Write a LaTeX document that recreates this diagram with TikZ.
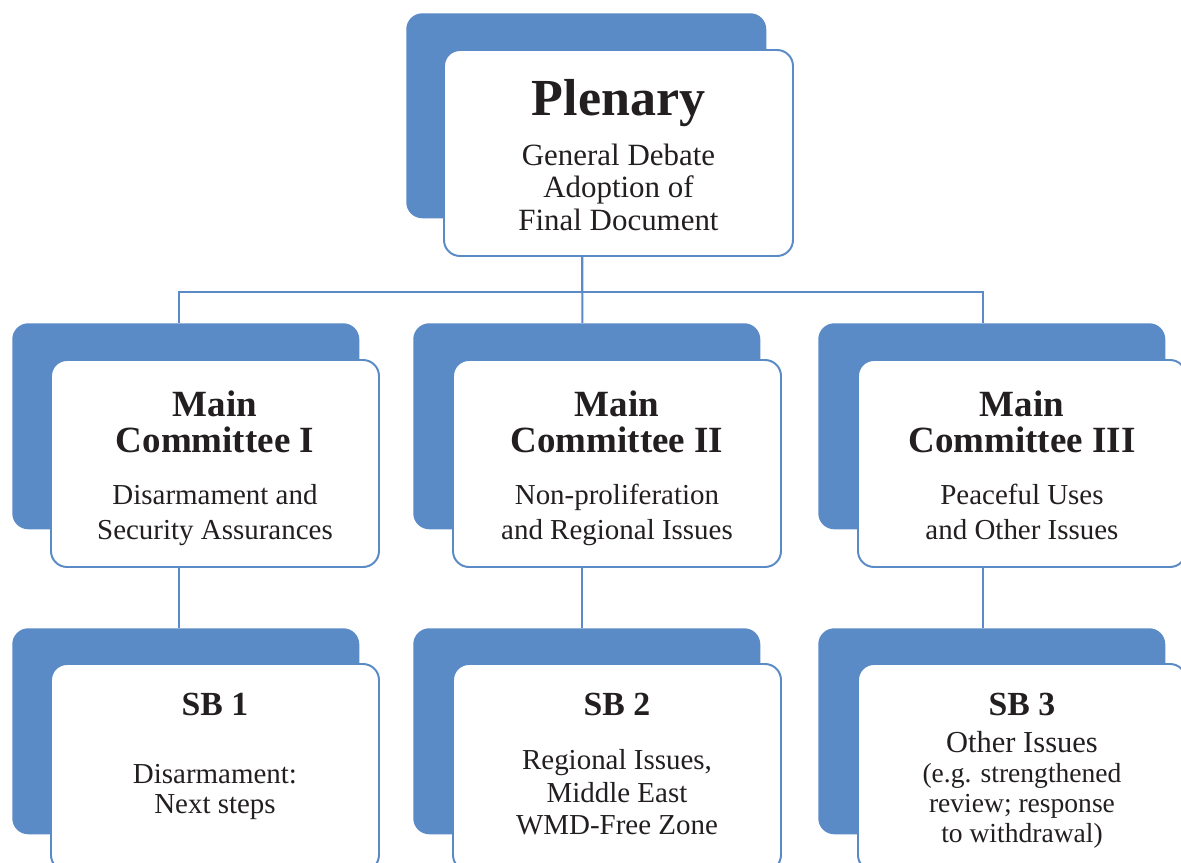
\documentclass[tikz,border=0pt]{standalone}
\usepackage{fontspec}
\setmainfont{Liberation Serif}
\definecolor{myblue}{RGB}{91,139,199}
\definecolor{mytext}{RGB}{35,31,32}
\usetikzlibrary{positioning, backgrounds}
\tikzset{
    back/.style={
           rectangle,
           rounded corners=0.4cm,
           fill=myblue, draw=none,
           anchor=north west,
           minimum width=8.675cm,
           minimum height=5.15cm,
           inner sep=0pt,
           },
    front/.style={
           rectangle,
           rounded corners=0.4cm,
           fill=white, draw=myblue, line width=1.4pt,
           anchor=north west,
           inner sep=0pt,
           text=mytext,
           },
    link/.style={draw=myblue, line width=1.4pt},
}
\newcommand{\boxtext}[4]{\parbox[c][#1][t]{#2}{\centering\parskip=0pt\rule{0pt}{#3}#4}}
\newcommand{\cbox}[2]{\boxtext{5.175cm}{8.2cm}{#1}{#2}}
\newcommand{\pltitle}{\fontsize{37}{40}\selectfont\bfseries}
\newcommand{\mctitle}{\fontsize{26.3}{25.6}\selectfont\bfseries}
\newcommand{\sbtitle}{\fontsize{24}{25}\selectfont\bfseries}
\newcommand{\body}[1]{\fontsize{20.6}{#1}\selectfont}

\begin{document}
\begin{tikzpicture}
  \path[use as bounding box, clip] (0,0) rectangle (29.525,-21.55);
  \node[back, minimum width=9cm, minimum height=5.125cm] (pb) at (10.15,-0.325) {};
  \node[front] (pf) at (11.075,-1.225) {\boxtext{5.15cm}{8.725cm}{1.65cm}{{\pltitle Plenary\par}\vspace{10.7pt}{\fontsize{22}{23.1}\selectfont General Debate\\Adoption of\\Final Document\par}}};
  \node[back] (cb1) at ( 0.3,  -8.075) {};
  \node[back] (cb2) at (10.325,-8.075) {};
  \node[back] (cb3) at (20.45, -8.075) {};
  \node[front] (cf1) at ( 1.25, -8.975) {\cbox{1.425cm}{{\mctitle Main\\Committee I\par}\vspace{11.4pt}{\body{24.9}Disarmament and\\Security Assurances\par}}};
  \node[front] (cf2) at (11.3,  -8.975) {\cbox{1.425cm}{{\mctitle Main\\Committee II\par}\vspace{11.4pt}{\body{24.9}Non-proliferation\\and Regional Issues\par}}};
  \node[front] (cf3) at (21.425,-8.975) {\cbox{1.425cm}{{\mctitle Main\\Committee III\par}\vspace{11.4pt}{\body{24.9}Peaceful Uses\\and Other Issues\par}}};
  \node[back] (sb1) at ( 0.3,  -15.7) {};
  \node[back] (sb2) at (10.325,-15.7) {};
  \node[back] (sb3) at (20.45, -15.7) {};
  \node[front] (sf1) at ( 1.25, -16.575) {\cbox{1.3cm}{{\sbtitle SB 1\par}\vspace{27pt}{\body{21.3}Disarmament:\\Next steps\par}}};
  \node[front] (sf2) at (11.3,  -16.575) {\cbox{1.3cm}{{\sbtitle SB 2\par}\vspace{15.3pt}{\body{23.1}Regional Issues,\\Middle East\\WMD-Free Zone\par}}};
  \node[front] (sf3) at (21.425,-16.575) {\cbox{1.3cm}{{\sbtitle SB 3\par}{\fontsize{21.7}{26.3}\selectfont Other Issues\par}{\fontsize{19.6}{21.3}\selectfont (e.g. strengthened\\review; response\\to withdrawal)\par}}};
  \begin{scope}[on background layer]
    \draw[link] ([xshift=-0.1cm]pb.south) -- ++(0,-1.825) -| ([xshift=-0.1625cm]cb1.north);
    \draw[link] ([xshift=-0.1cm]pb.south) -- ++(0,-1.825) -| ([xshift=-0.2125cm]cb3.north);
    \draw[link] ([xshift=-0.1cm]pb.south) -- ([xshift=-0.1125cm]cb2.north);
    \draw[link] ([xshift=-0.1625cm]cb1.south) -- ([xshift=-0.1625cm]sb1.north);
    \draw[link] ([xshift=-0.1125cm]cb2.south) -- ([xshift=-0.1125cm]sb2.north);
    \draw[link] ([xshift=-0.2125cm]cb3.south) -- ([xshift=-0.2125cm]sb3.north);
  \end{scope}
\end{tikzpicture}
\end{document}
